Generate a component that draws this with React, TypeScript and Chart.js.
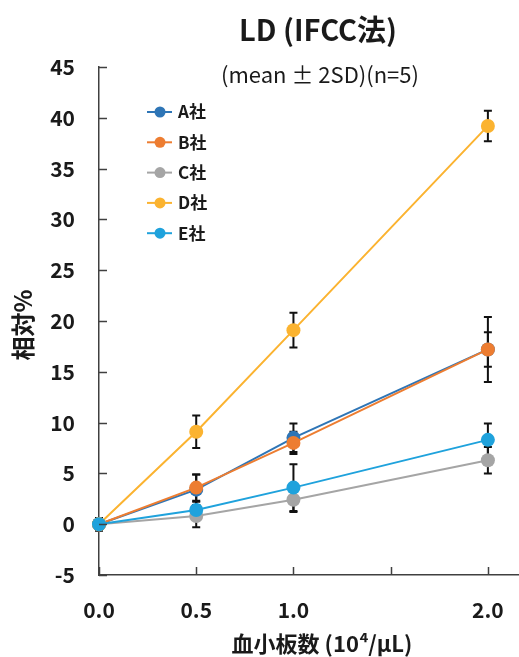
import React, { useEffect, useRef } from "react";
import { Chart, registerables } from "chart.js";

Chart.register(...registerables);

const xValues = [0, 0.5, 1.0, 2.0];
const seriesNames = ["A社", "B社", "C社", "D社", "E社"];
const seriesA = [0, 3.4, 8.5, 17.2];
const errA = [0.6, 1.5, 1.4, 3.2];
const seriesB = [0, 3.6, 8.0, 17.2];
const errB = [0.6, 1.3, 1.1, 1.7];
const seriesC = [0, 0.8, 2.4, 6.3];
const errC = [0.6, 1.1, 1.2, 1.3];
const seriesD = [0, 9.1, 19.1, 39.2];
const errD = [0.6, 1.6, 1.7, 1.5];
const seriesE = [0, 1.4, 3.6, 8.3];
const errE = [0.6, 0.8, 2.3, 1.6];
const colors = ["#2E75B6", "#ED7D31", "#A5A5A5", "#FBB330", "#1FA2DC"];
const yTicks = [-5, 0, 5, 10, 15, 20, 25, 30, 35, 40, 45];
const xTicks = [0, 0.5, 1.0, 1.5, 2.0];
const xTickLabels = ["0.0", "0.5", "1.0", "", "2.0"];
const titleText = "LD (IFCC法)";
const subtitleText = "(mean ± 2SD)(n=5)";
const yTitle = "相対%";
const xTitle = "血小板数 (10⁴/μL)";

const FONT = "'Noto Sans CJK JP', 'Noto Sans', sans-serif";
const allSeries = [seriesA, seriesB, seriesC, seriesD, seriesE];
const allErrs = [errA, errB, errC, errD, errE];

const errorBarPlugin = {
  id: "errorBars",
  beforeDatasetsDraw(chart: any) {
    const ctx = chart.ctx;
    const xs = chart.scales.x;
    const ys = chart.scales.y;
    ctx.save();
    ctx.strokeStyle = "#111";
    ctx.lineWidth = 2;
    allSeries.forEach((s, i) => {
      s.forEach((v, j) => {
        const e = allErrs[i][j];
        const x = xs.getPixelForValue(xValues[j]);
        const y1 = ys.getPixelForValue(v + e);
        const y2 = ys.getPixelForValue(v - e);
        ctx.beginPath();
        ctx.moveTo(x, y1);
        ctx.lineTo(x, y2);
        ctx.moveTo(x - 4, y1);
        ctx.lineTo(x + 4, y1);
        ctx.moveTo(x - 4, y2);
        ctx.lineTo(x + 4, y2);
        ctx.stroke();
      });
    });
    ctx.restore();
  },
};

const decorPlugin = {
  id: "decor",
  afterDraw(chart: any) {
    const ctx = chart.ctx;
    const xs = chart.scales.x;
    const ys = chart.scales.y;
    const area = chart.chartArea;
    ctx.save();
    ctx.strokeStyle = "#404040";
    ctx.lineWidth = 1.5;
    ctx.beginPath();
    yTicks.forEach((t) => {
      const y = Math.round(ys.getPixelForValue(t)) + 0.5;
      ctx.moveTo(area.left, y);
      ctx.lineTo(area.left + 8, y);
    });
    xTicks.forEach((t) => {
      const x = Math.round(xs.getPixelForValue(t)) + 0.5;
      ctx.moveTo(x, area.bottom);
      ctx.lineTo(x, area.bottom - 8);
    });
    ctx.stroke();

    ctx.fillStyle = "#1a1a1a";
    ctx.textAlign = "center";
    ctx.textBaseline = "middle";
    ctx.font = `bold 29px ${FONT}`;
    ctx.fillText(titleText, 318, 30);
    ctx.font = `22px ${FONT}`;
    ctx.fillText(subtitleText, 320, 75);
    ctx.font = `bold 22px ${FONT}`;
    ctx.fillText(xTitle, 322, 644);
    ctx.save();
    ctx.translate(23, 325);
    ctx.rotate(-Math.PI / 2);
    ctx.font = `bold 24px ${FONT}`;
    ctx.fillText(yTitle, 0, 0);
    ctx.restore();

    ctx.textAlign = "left";
    ctx.font = `bold 17px ${FONT}`;
    seriesNames.forEach((n, i) => {
      const y = 112 + i * 30.3;
      ctx.strokeStyle = colors[i];
      ctx.lineWidth = 2;
      ctx.beginPath();
      ctx.moveTo(147, y);
      ctx.lineTo(172, y);
      ctx.stroke();
      ctx.fillStyle = colors[i];
      ctx.beginPath();
      ctx.arc(160, y, 5.5, 0, Math.PI * 2);
      ctx.fill();
      ctx.fillStyle = "#1a1a1a";
      ctx.fillText(n, 178, y);
    });
    ctx.restore();
  },
};

export default function App() {
  const ref = useRef<HTMLCanvasElement>(null);
  useEffect(() => {
    document.body.style.margin = "0";
    document.body.style.overflow = "hidden";
    const orders = [4, 3, 2, 1, 0];
    const zeroPad = (s: any) => {
      s.paddingLeft = 0;
      s.paddingRight = 0;
      s.paddingTop = 0;
      s.paddingBottom = 0;
    };
    const chart = new Chart(ref.current as HTMLCanvasElement, {
      type: "line",
      data: {
        datasets: allSeries.map((s, i) => ({
          label: seriesNames[i],
          data: s.map((v, j) => ({ x: xValues[j], y: v })),
          borderColor: colors[i],
          backgroundColor: colors[i],
          pointBackgroundColor: colors[i],
          pointBorderColor: colors[i],
          pointRadius: 7,
          pointBorderWidth: 0,
          borderWidth: 2,
          order: orders[i],
          tension: 0,
          clip: false,
        })),
      },
      options: {
        responsive: false,
        animation: false,
        events: [],
        layout: {
          autoPadding: false,
          padding: { top: 67, right: 0, left: 0, bottom: 0 },
        },
        plugins: {
          legend: { display: false },
          title: { display: false },
          tooltip: { enabled: false },
        },
        scales: {
          x: {
            type: "linear",
            min: 0,
            max: 2.16,
            grid: { display: false, drawTicks: false },
            border: { display: true, color: "#404040", width: 1.5 },
            afterBuildTicks: (s: any) => {
              s.ticks = xTicks.map((v) => ({ value: v }));
            },
            afterFit: (s: any) => {
              s.height = 82;
              zeroPad(s);
            },
            ticks: {
              autoSkip: false,
              maxRotation: 0,
              padding: 22,
              color: "#1a1a1a",
              font: { family: FONT, size: 21, weight: "bold" },
              callback: (v: any) => {
                const k = xTicks.indexOf(Number(v));
                return k >= 0 ? xTickLabels[k] : "";
              },
            },
          },
          y: {
            type: "linear",
            min: -5,
            max: 45,
            grid: { display: false, drawTicks: false },
            border: { display: true, color: "#404040", width: 1.5 },
            afterBuildTicks: (s: any) => {
              s.ticks = yTicks.map((v) => ({ value: v }));
            },
            afterFit: (s: any) => {
              s.width = 99;
              zeroPad(s);
            },
            ticks: {
              autoSkip: false,
              padding: 24,
              color: "#1a1a1a",
              font: { family: FONT, size: 21, weight: "bold" },
              callback: (v: any) => String(v),
            },
          },
        },
      },
      plugins: [errorBarPlugin, decorPlugin],
    } as any);
    return () => chart.destroy();
  }, []);
  return (
    <div style={{ width: 519, height: 657 }}>
      <canvas ref={ref} width={519} height={657} />
    </div>
  );
}
